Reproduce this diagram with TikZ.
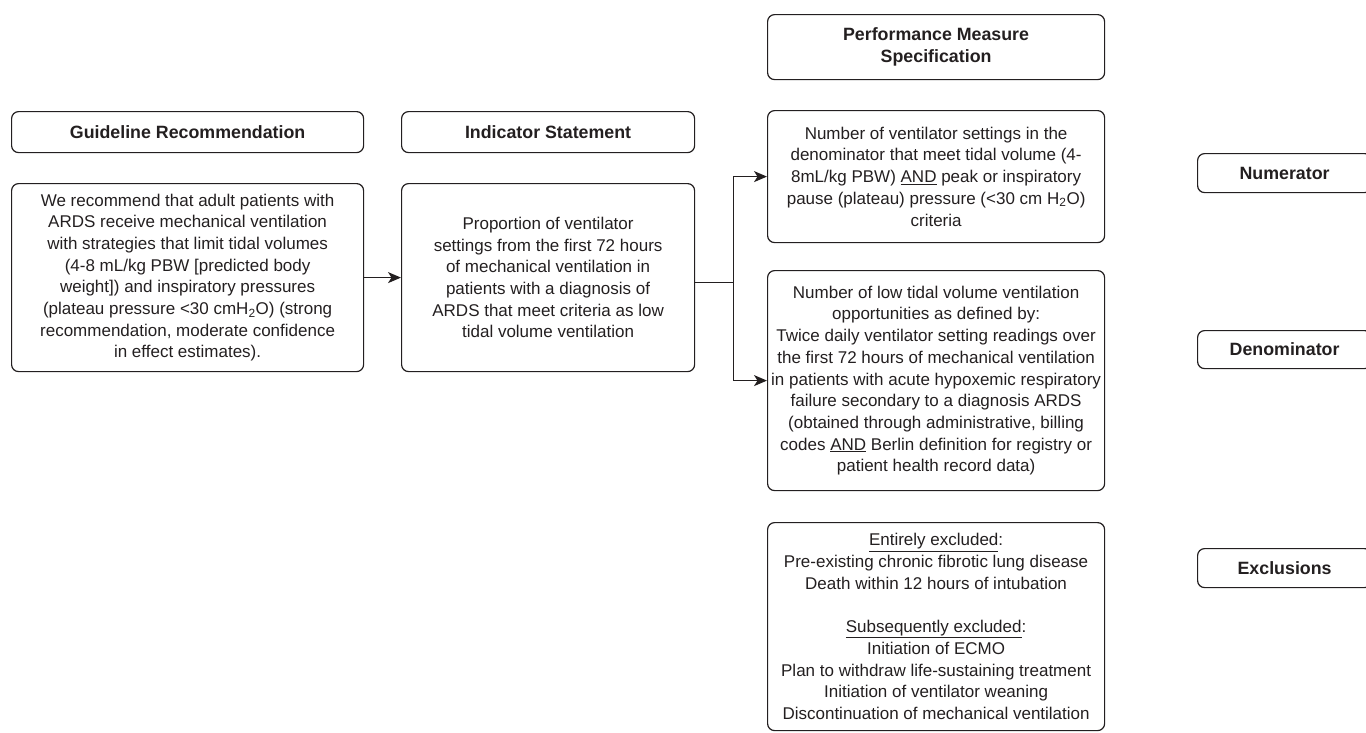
\documentclass[tikz,border=0pt]{standalone}
\usepackage{fontspec}
\setmainfont{Liberation Sans}
\usetikzlibrary{arrows.meta}
\definecolor{inkgray}{HTML}{231F20}

\begin{document}
\begin{tikzpicture}[x=1pt,y=-1pt,
    box/.style={draw=inkgray, line width=1.2pt, rounded corners=7pt, text=inkgray,
      align=center, inner sep=0pt, anchor=north west,
      font=\fontsize{17}{21.7}\selectfont},
    headbox/.style={box, font=\fontsize{17.8}{21.7}\selectfont\bfseries},
    link/.style={draw=inkgray, line width=1.2pt, -{Stealth[length=13pt,width=11pt,inset=3.5pt]}}]
      \useasboundingbox (0,0) rectangle (1366,732);
      \clip (0,0) rectangle (1366,732);

      % Left column: guideline recommendation
      \node[headbox, minimum width=352pt, minimum height=41pt] (gr_head) at (11,111)
        {Guideline Recommendation};
      \node[box, minimum width=352pt, minimum height=188pt] (gr_body) at (11,183)
        {We recommend that adult patients with\\
         ARDS receive mechanical ventilation\\
         with strategies that limit tidal volumes\\
         (4-8 mL/kg PBW [predicted body\\
         weight]) and inspiratory pressures\\
         (plateau pressure <30 cmH\textsubscript{2}O) (strong\\
         recommendation, moderate confidence\\
         in effect estimates).};

      % Middle column: indicator statement
      \node[headbox, minimum width=293pt, minimum height=41pt] (is_head) at (401,111)
        {Indicator Statement};
      \node[box, minimum width=293pt, minimum height=188pt] (is_body) at (401,183)
        {Proportion of ventilator\\
         settings from the first 72 hours\\
         of mechanical ventilation in\\
         patients with a diagnosis of\\
         ARDS that meet criteria as low\\
         tidal volume ventilation};

      % Right column: performance measure specification
      \node[headbox, minimum width=337pt, minimum height=65pt] (pm_head) at (767,14)
        {Performance Measure\\ Specification};
      \node[box, minimum width=337pt, minimum height=132pt] (num_spec) at (767,110)
        {Number of ventilator settings in the\\
         denominator that meet tidal volume (4-\\
         8mL/kg PBW) \underline{AND} peak or inspiratory\\
         pause (plateau) pressure (<30 cm H\textsubscript{2}O)\\
         criteria};
      \node[box, minimum width=337pt, minimum height=220pt] (den_spec) at (767,270)
        {Number of low tidal volume ventilation\\
         opportunities as defined by:\\
         Twice daily ventilator setting readings over\\
         the first 72 hours of mechanical ventilation\\
         in patients with acute hypoxemic respiratory\\
         failure secondary to a diagnosis ARDS\\
         (obtained through administrative, billing\\
         codes \underline{AND} Berlin definition for registry or\\
         patient health record data)};
      \node[box, minimum width=337pt, minimum height=208pt] (excl_spec) at (767,522)
        {\underline{Entirely excluded}:\\
         Pre-existing chronic fibrotic lung disease\\
         Death within 12 hours of intubation\\[21.7pt]
         \underline{Subsequently excluded}:\\
         Initiation of ECMO\\
         Plan to withdraw life-sustaining treatment\\
         Initiation of ventilator weaning\\
         Discontinuation of mechanical ventilation};

      % Labels at the far right
      \node[headbox, minimum width=174pt, minimum height=39pt] (num_lab) at (1197,153) {Numerator};
      \node[headbox, minimum width=174pt, minimum height=38pt] (den_lab) at (1197,330) {Denominator};
      \node[headbox, minimum width=174pt, minimum height=39pt] (excl_lab) at (1197,548) {Exclusions};

      % Connectors
      \draw[link] (gr_body.east) -- (is_body.west);
      \coordinate (split) at ([xshift=38pt,yshift=-5pt]is_body.east);
      \draw[draw=inkgray, line width=1.2pt] ([yshift=-5pt]is_body.east) -- (split);
      \draw[link] (split) |- (num_spec.west);
      \draw[link] (split) |- (den_spec.west);
    \end{tikzpicture}
\end{document}
